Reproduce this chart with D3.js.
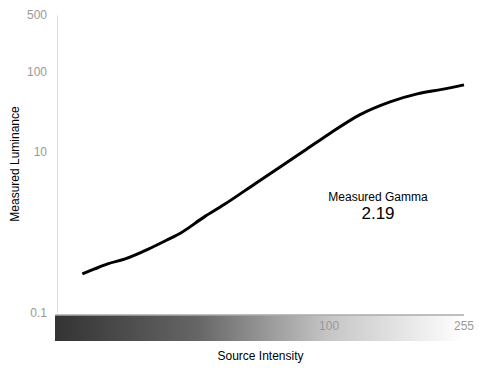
<!DOCTYPE html>
<html>
<head>
<meta charset="utf-8">
<script src="https://cdn.jsdelivr.net/npm/d3@7"></script>
<style>
  body { margin: 0; background: #fff; }
  text { font-family: "Liberation Sans", Arial, sans-serif; }
</style>
</head>
<body>
<div id="chart"></div>
<script>
// source intensity (0-255) and measured luminance
const intensity = [0.4, 1, 2, 4, 8, 12, 16, 24, 32, 48, 64, 80, 100, 128, 160, 192, 224, 255];
const luminance = [0.305, 0.352, 0.407, 0.469, 0.624, 0.8, 0.986, 1.56, 2.2, 4.06, 6.7, 10.3, 16.7, 28.8, 41.8, 52.5, 59.7, 67.9];
const yTicks = [0.1, 10, 100, 500];
const xTicks = [100, 255];
const gammaValue = "2.19";

const W = 484, H = 375;
const margin = {top: 15, right: 20, bottom: 62, left: 57};

const svg = d3.select("#chart").append("svg")
  .attr("width", W)
  .attr("height", H);

// x axis is drawn on a gamma-like scale, like the original
const x = d3.scalePow().exponent(0.43)
  .domain([0, 255])
  .range([margin.left, W - margin.right]);

const y = d3.scaleLog()
  .domain([0.1, 500])
  .range([H - margin.bottom, margin.top]);

// gradient strip under the plot
const grad = svg.append("defs").append("linearGradient")
  .attr("id", "ramp")
  .attr("x1", "0%").attr("x2", "100%");
grad.append("stop").attr("offset", "0%").attr("stop-color", "#333");
grad.append("stop").attr("offset", "35%").attr("stop-color", "#666");
grad.append("stop").attr("offset", "67%").attr("stop-color", "#c6c6c6");
grad.append("stop").attr("offset", "100%").attr("stop-color", "#fff");

svg.append("rect")
  .attr("x", x(0) - 2)
  .attr("y", y(0.1) + 2)
  .attr("width", x(255) - x(0) + 2)
  .attr("height", 26)
  .style("fill", "url(#ramp)");

// x axis line
svg.append("line")
  .attr("x1", x(0) - 2).attr("x2", x(255))
  .attr("y1", y(0.1) + 2).attr("y2", y(0.1) + 2)
  .style("stroke", "#aaa")
  .style("stroke-width", 1.5);

// y axis
const yAxis = svg.append("g")
  .attr("transform", "translate(" + margin.left + ",0)")
  .call(d3.axisLeft(y).tickValues(yTicks).tickSize(0).tickPadding(10)
    .tickFormat(d3.format("~g")));
yAxis.select(".domain").style("stroke", "#ddd");
yAxis.selectAll("text")
  .style("fill", "#999")
  .style("font-size", "12px")
  .style("font-family", "Liberation Sans, Arial, sans-serif");

// x tick labels inside the strip
svg.selectAll(".xlab")
  .data(xTicks)
  .enter().append("text")
  .attr("class", "xlab")
  .attr("x", d => x(d))
  .attr("y", y(0.1) + 17)
  .attr("text-anchor", "middle")
  .style("fill", "#999")
  .style("font-size", "12px")
  .text(d => d);

// curve
const line = d3.line()
  .x(d => x(d[0]))
  .y(d => y(d[1]))
  .curve(d3.curveMonotoneX);

svg.append("path")
  .datum(intensity.map((v, i) => [v, luminance[i]]))
  .attr("d", line)
  .style("fill", "none")
  .style("stroke", "#000")
  .style("stroke-width", 3);

// axis titles
svg.append("text")
  .attr("x", (x(0) + x(255)) / 2)
  .attr("y", 360)
  .attr("text-anchor", "middle")
  .style("font-size", "12px")
  .text("Source Intensity");

svg.append("text")
  .attr("transform", "translate(19," + (y(0.1) + y(500)) / 2 + ") rotate(-90)")
  .attr("text-anchor", "middle")
  .style("font-size", "12px")
  .text("Measured Luminance");

// gamma annotation
svg.append("text")
  .attr("x", 378)
  .attr("y", 201)
  .attr("text-anchor", "middle")
  .style("font-size", "12px")
  .text("Measured Gamma");

svg.append("text")
  .attr("x", 378)
  .attr("y", 219)
  .attr("text-anchor", "middle")
  .style("font-size", "17px")
  .text(gammaValue);
</script>
</body>
</html>
